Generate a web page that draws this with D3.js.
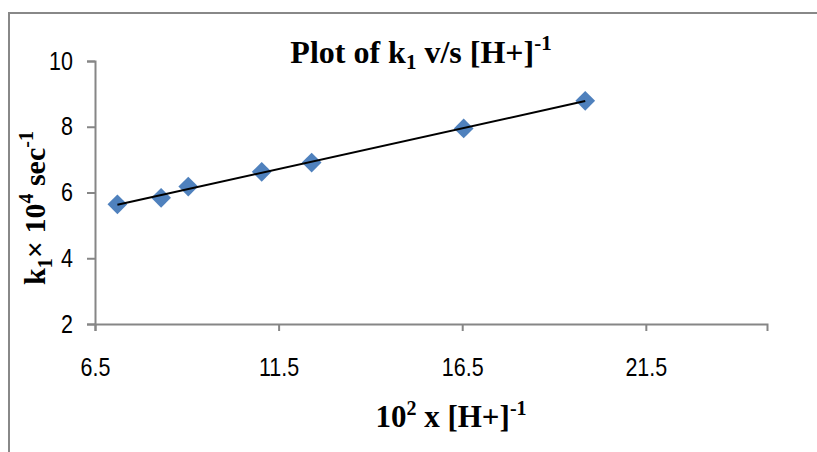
<!DOCTYPE html>
<html>
<head>
<meta charset="utf-8">
<script src="https://cdn.jsdelivr.net/npm/d3@7"></script>
<style>
  body { margin: 0; background: #fff; }
  .tick text { font-family: "Liberation Sans", Arial, sans-serif; font-size: 25px; fill: #000; }
  .ttl { font-family: "Liberation Serif", "Times New Roman", serif; font-weight: bold; fill: #000; }
</style>
</head>
<body>
<div id="chart"></div>
<script>
// values
const xValues = [7.11, 8.30, 9.04, 11.04, 12.40, 16.54, 19.85];
const yValues = [5.64, 5.84, 6.18, 6.63, 6.91, 7.95, 8.79];
const xTicks = [6.5, 11.5, 16.5, 21.5];
const yTicks = [2, 4, 6, 8, 10];

const w = 817;
const h = 452;
const margin = ({ top: 61, right: 50, bottom: 128, left: 95 });
const squeeze = 0.86; // tick font in the reference is a narrow face

const svg = d3.select('#chart')
  .append('svg')
  .attr('width', w)
  .attr('height', h);

// outer chart frame (right and bottom edges fall outside the picture)
svg.append('rect')
  .attr('x', 9)
  .attr('y', 13)
  .attr('width', 840)
  .attr('height', 480)
  .attr('fill', 'none')
  .attr('stroke', '#888')
  .attr('stroke-width', 2);

const xScale = d3.scaleLinear()
  .domain([6.5, 24.8])
  .range([margin.left, w - margin.right]);

const yScale = d3.scaleLinear()
  .domain([2, 10])
  .range([h - margin.bottom, margin.top]);

const xAxis = d3.axisBottom(xScale)
  .tickValues(xTicks)
  .tickFormat(d3.format('.1f'))
  .tickSizeOuter(0)
  .tickSize(7);

const yAxis = d3.axisLeft(yScale)
  .tickValues(yTicks)
  .tickSizeOuter(0)
  .tickSize(8);

svg.append('g')
  .attr('transform', `translate(0, ${h - margin.bottom})`)
  .call(xAxis)
  .selectAll('.tick text')
  .attr('y', 52)
  .attr('dy', 0)
  .attr('transform', `scale(${squeeze}, 1)`);

svg.append('g')
  .attr('transform', `translate(${margin.left}, 0)`)
  .call(yAxis)
  .selectAll('.tick text')
  .attr('x', -22 / squeeze)
  .attr('transform', `scale(${squeeze}, 1)`);

svg.selectAll('.domain, .tick line')
  .attr('stroke', '#868686')
  .attr('stroke-width', 2);

// linear trendline fitted to the points
const mx = d3.mean(xValues);
const my = d3.mean(yValues);
const slope = d3.sum(xValues, (x, i) => (x - mx) * (yValues[i] - my)) / d3.sum(xValues, x => (x - mx) * (x - mx));
const intercept = my - slope * mx;
const xExt = d3.extent(xValues);

const points = xValues.map((x, i) => ({ x, y: yValues[i] }));

svg.selectAll('.pt')
  .data(points)
  .enter()
  .append('path')
  .attr('class', 'pt')
  .attr('d', d3.symbol().type(d3.symbolSquare).size(195))
  .attr('transform', d => `translate(${xScale(d.x)}, ${yScale(d.y)}) rotate(45)`)
  .attr('fill', '#4F81BD');

svg.append('line')
  .attr('x1', xScale(xExt[0]))
  .attr('y1', yScale(slope * xExt[0] + intercept))
  .attr('x2', xScale(xExt[1]))
  .attr('y2', yScale(slope * xExt[1] + intercept))
  .attr('stroke', '#000')
  .attr('stroke-width', 2);

// titles
const title = svg.append('text')
  .attr('class', 'ttl')
  .attr('x', 421)
  .attr('y', 63)
  .attr('text-anchor', 'middle')
  .style('font-size', '32px');
title.append('tspan').text('Plot of k');
title.append('tspan').attr('dy', 6).style('font-size', '21px').text('1');
title.append('tspan').attr('dy', -6).text(' v/s [H+]');
title.append('tspan').attr('dy', -13).style('font-size', '21px').text('-1');

const xt = svg.append('text')
  .attr('class', 'ttl')
  .attr('x', 451)
  .attr('y', 427)
  .attr('text-anchor', 'middle')
  .style('font-size', '31px');
xt.append('tspan').text('10');
xt.append('tspan').attr('dy', -12).style('font-size', '20px').text('2');
xt.append('tspan').attr('dy', 12).text(' x [H+]');
xt.append('tspan').attr('dy', -12).style('font-size', '20px').text('-1');

const yt = svg.append('text')
  .attr('class', 'ttl')
  .attr('transform', 'translate(45, 208) rotate(-90)')
  .attr('text-anchor', 'middle')
  .style('font-size', '30px');
yt.append('tspan').text('k');
yt.append('tspan').attr('dy', 7).style('font-size', '20px').text('1');
yt.append('tspan').attr('dy', -7).text('× 10');
yt.append('tspan').attr('dy', -12).style('font-size', '20px').text('4');
yt.append('tspan').attr('dy', 12).text(' sec');
yt.append('tspan').attr('dy', -12).style('font-size', '20px').text('-1');
</script>
</body>
</html>
